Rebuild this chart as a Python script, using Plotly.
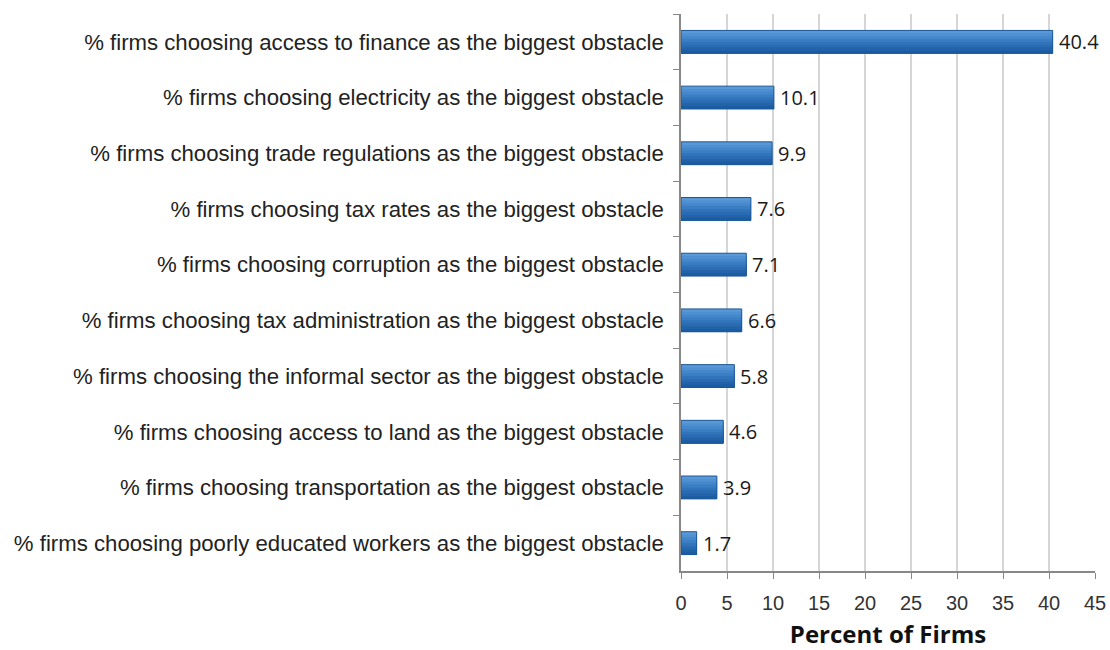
import plotly.graph_objects as go

# Biggest obstacle reported by firms (share of firms, %)
categories = [
    "% firms choosing access to finance as the biggest obstacle",
    "% firms choosing electricity as the biggest obstacle",
    "% firms choosing trade regulations as the biggest obstacle",
    "% firms choosing tax rates as the biggest obstacle",
    "% firms choosing corruption as the biggest obstacle",
    "% firms choosing tax administration as the biggest obstacle",
    "% firms choosing the informal sector as the biggest obstacle",
    "% firms choosing access to land as the biggest obstacle",
    "% firms choosing transportation as the biggest obstacle",
    "% firms choosing poorly educated workers as the biggest obstacle",
]
values = [40.4, 10.1, 9.9, 7.6, 7.1, 6.6, 5.8, 4.6, 3.9, 1.7]
x_ticks = [0, 5, 10, 15, 20, 25, 30, 35, 40, 45]

BAR_W = 0.41
# vertical shading of each bar, from top to bottom; every band runs down to
# the bottom edge so the layers overlap without seams
band_colors = ["#5a99d8", "#4e90d2", "#4487cb", "#3a7ec3", "#3174bb",
               "#2a6bb2", "#2363aa", "#1c5ca3"]

fig = go.Figure()
n = len(band_colors)
h = BAR_W / n
for i, col in enumerate(band_colors):
    fig.add_trace(go.Bar(
        x=values, y=categories, orientation="h",
        width=BAR_W - i * h, offset=-BAR_W / 2 + i * h,
        marker=dict(color=col, line=dict(width=0)),
        hoverinfo="skip", showlegend=False,
    ))

# outline of each bar
fig.add_trace(go.Bar(
    x=values, y=categories, orientation="h",
    width=BAR_W, offset=-BAR_W / 2,
    marker=dict(color="rgba(0,0,0,0)", line=dict(color="#1b5797", width=1)),
    showlegend=False,
))

# value labels just past the end of each bar
for cat, v in zip(categories, values):
    fig.add_annotation(
        x=v, y=cat, text=f"{v:.1f}", showarrow=False,
        xanchor="left", yanchor="middle", xshift=4,
        font=dict(family="Open Sans", size=20, color="#1a1a1a"),
    )

fig.update_layout(
    width=1110, height=650,
    margin=dict(l=681, r=15, t=14, b=79),
    barmode="overlay",
    plot_bgcolor="white", paper_bgcolor="white",
    font=dict(family="Liberation Sans", size=22, color="#222222"),
)
fig.update_xaxes(
    range=[0, 45], tickvals=x_ticks, ticktext=[str(t) for t in x_ticks],
    showgrid=True, gridcolor="#d6d6d6", gridwidth=1.5,
    showline=True, linecolor="#888888", linewidth=1.5,
    ticks="outside", ticklen=6, tickcolor="#888888",
    tickfont=dict(family="Liberation Sans", size=20, color="#333333"),
    ticklabelstandoff=7,
    zeroline=False, automargin=False,
    title=dict(text="<b>Percent of Firms</b>",
               font=dict(family="Open Sans", size=24, color="#111111"),
               standoff=26),
)
fig.update_yaxes(
    autorange="reversed",
    showline=True, linecolor="#888888", linewidth=1.5,
    ticks="outside", ticklen=6, tickcolor="#888888", tickson="boundaries",
    tickfont=dict(family="Liberation Sans", size=22.2, color="#222222"),
    showgrid=False, ticklabelstandoff=11, automargin=False,
)

fig.write_html("out.html")
